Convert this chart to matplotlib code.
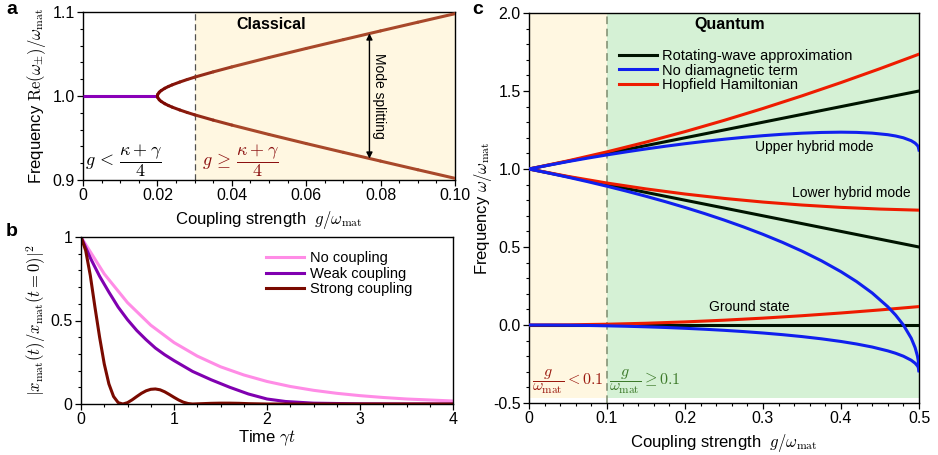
import matplotlib
matplotlib.use('Agg')
import matplotlib.pyplot as plt
from matplotlib.collections import LineCollection
from matplotlib.colors import LinearSegmentedColormap
from matplotlib.ticker import MultipleLocator
from matplotlib.lines import Line2D
import numpy as np

plt.rcParams['font.family'] = ['Liberation Sans', 'DejaVu Sans']
plt.rcParams['mathtext.fontset'] = 'cm'
plt.rcParams['axes.linewidth'] = 1.0

# ---------------- Panel a data ----------------
g_flat = [0.0, 0.02]
freq_flat = [1.0, 1.0]
g_split = [0.02, 0.0201, 0.0205, 0.021, 0.022, 0.023, 0.024, 0.026, 0.028, 0.03,
           0.035, 0.04, 0.05, 0.06, 0.07, 0.08, 0.09, 0.1]
freq_upper = [1.0, 1.0020, 1.0045, 1.0064, 1.0092, 1.0114, 1.0133, 1.0166, 1.0196, 1.0224,
              1.0287, 1.0346, 1.0458, 1.0566, 1.0671, 1.0775, 1.0878, 1.0980]
freq_lower = [1.0, 0.9980, 0.9955, 0.9936, 0.9908, 0.9886, 0.9867, 0.9834, 0.9804, 0.9776,
              0.9713, 0.9654, 0.9542, 0.9434, 0.9329, 0.9225, 0.9122, 0.9020]
xticks_a = [0, 0.02, 0.04, 0.06, 0.08, 0.10]
xticklabels_a = ['0', '0.02', '0.04', '0.06', '0.08', '0.10']
yticks_a = [0.9, 1.0, 1.1]
yticklabels_a = ['0.9', '1.0', '1.1']

# ---------------- Panel b data ----------------
t_none = [0, 0.25, 0.5, 0.75, 1.0, 1.25, 1.5, 1.75, 2.0, 2.25, 2.5, 2.75, 3.0, 3.25, 3.5, 3.75, 4.0]
pop_none = [1.0, 0.779, 0.607, 0.472, 0.368, 0.287, 0.223, 0.174, 0.135, 0.105, 0.082, 0.064,
            0.050, 0.039, 0.030, 0.024, 0.018]
t_weak = [0, 0.1, 0.2, 0.3, 0.4, 0.5, 0.6, 0.7, 0.8, 0.9, 1.0, 1.2, 1.4, 1.6, 1.8, 2.0, 2.2,
          2.5, 3.0, 3.5, 4.0]
pop_weak = [1.0, 0.875, 0.765, 0.67, 0.58, 0.505, 0.44, 0.385, 0.335, 0.295, 0.26, 0.195, 0.145,
            0.10, 0.06, 0.03, 0.015, 0.005, 0.001, 0.0, 0.0]
t_strong = [0, 0.05, 0.1, 0.15, 0.2, 0.25, 0.3, 0.35, 0.4, 0.45, 0.5, 0.55, 0.6, 0.65, 0.7, 0.75,
            0.8, 0.85, 0.9, 0.95, 1.0, 1.05, 1.1, 1.15, 1.2, 1.3, 1.4, 1.5, 1.6, 1.7, 1.8, 1.9,
            2.0, 4.0]
pop_strong = [1.0, 0.92, 0.77, 0.58, 0.40, 0.24, 0.12, 0.045, 0.008, 0.0, 0.008, 0.025, 0.045,
              0.064, 0.079, 0.088, 0.090, 0.085, 0.073, 0.057, 0.040, 0.024, 0.011, 0.003, 0.0,
              0.002, 0.004, 0.005, 0.005, 0.004, 0.002, 0.001, 0.0, 0.0]
labels_b = ['No coupling', 'Weak coupling', 'Strong coupling']

# ---------------- Panel c data ----------------
g_rwa = [0.0, 0.5]
rwa_upper = [1.0, 1.5]
rwa_lower = [1.0, 0.5]
rwa_ground = [0.0, 0.0]

g_hop = [0.0, 0.05, 0.1, 0.15, 0.2, 0.25, 0.3, 0.35, 0.4, 0.45, 0.5]
hop_upper = [1.0, 1.0525, 1.1100, 1.1724, 1.2396, 1.3116, 1.3881, 1.4690, 1.5541, 1.6432, 1.7361]
hop_lower = [1.0, 0.9525, 0.9100, 0.8724, 0.8396, 0.8116, 0.7881, 0.7690, 0.7541, 0.7432, 0.7361]
hop_ground = [0.0, 0.0012, 0.0050, 0.0112, 0.0198, 0.0308, 0.0440, 0.0595, 0.0770, 0.0966, 0.1180]

g_nd = [0.0, 0.025, 0.05, 0.075, 0.1, 0.125, 0.15, 0.175, 0.2, 0.225, 0.25, 0.275, 0.3, 0.325,
        0.35, 0.375, 0.4, 0.42, 0.44, 0.46, 0.47, 0.48, 0.49, 0.495, 0.498, 0.499, 0.5]
nd_upper = [1.0, 1.0244, 1.0476, 1.0696, 1.0904, 1.1101, 1.1286, 1.1460, 1.1621, 1.1771, 1.1907,
            1.2029, 1.2136, 1.2226, 1.2296, 1.2343, 1.2361, 1.2347, 1.2299, 1.2199, 1.2117,
            1.2000, 1.1814, 1.1660, 1.1508, 1.1426, 1.1213]
nd_lower = [1.0, 0.9744, 0.9474, 0.9191, 0.8894, 0.8581, 0.8251, 0.7903, 0.7535, 0.7145, 0.6730,
            0.6287, 0.5811, 0.5297, 0.4735, 0.4114, 0.3416, 0.2782, 0.2052, 0.1171, 0.0638,
            0.0, -0.0843, -0.1447, -0.1987, -0.2262, -0.2929]
nd_ground = [0.0, -0.0003, -0.0013, -0.0028, -0.0051, -0.0080, -0.0116, -0.0159, -0.0211,
             -0.0271, -0.0341, -0.0421, -0.0513, -0.0619, -0.0742, -0.0886, -0.1056, -0.1218,
             -0.1412, -0.1658, -0.1811, -0.2000, -0.2257, -0.2447, -0.2620, -0.2709, -0.2929]
labels_c = ['Rotating-wave approximation', 'No diamagnetic term', 'Hopfield Hamiltonian']
xticks_c = [0, 0.1, 0.2, 0.3, 0.4, 0.5]
xticklabels_c = ['0', '0.1', '0.2', '0.3', '0.4', '0.5']
yticks_c = [-0.5, 0.0, 0.5, 1.0, 1.5, 2.0]
yticklabels_c = ['-0.5', '0.0', '0.5', '1.0', '1.5', '2.0']

# ---------------- Style ----------------
YELLOW = '#fff7e1'
GREEN = '#d5f1d5'
TICK_FS = 11.5
LABEL_FS = 12
W, H = 938, 455

fig = plt.figure(figsize=(W / 100, H / 100), dpi=100)


def px_axes(left, top, right, bottom):
    return fig.add_axes([left / W, 1 - bottom / H, (right - left) / W, (bottom - top) / H])


def style_ticks(ax):
    ax.tick_params(which='major', direction='out', length=4, width=0.9, labelsize=TICK_FS, pad=2)
    ax.tick_params(which='minor', direction='out', length=2.5, width=0.8)


# ---------------- Panel a ----------------
axA = px_axes(83, 12, 455, 180)
axA.axvspan(0.03, 0.1, color=YELLOW, zorder=0, lw=0)
axA.axvline(0.03, color='#505050', ls=(0, (5, 3)), lw=0.9, zorder=1)
axA.plot(g_flat, freq_flat, color='#8a00b8', lw=2.2, zorder=3, solid_capstyle='butt')

xs = np.array(g_split[::-1] + g_split[1:])
ys = np.array(freq_lower[::-1] + freq_upper[1:])
pts = np.column_stack([xs, ys]).reshape(-1, 1, 2)
segs = np.concatenate([pts[:-1], pts[1:]], axis=1)
cmap_a = LinearSegmentedColormap.from_list('br', ['#7a0400', '#a8482a'])
xmid = 0.5 * (xs[:-1] + xs[1:])
frac = np.clip((xmid - 0.02) / 0.022, 0, 1)
lc = LineCollection(segs, colors=cmap_a(frac), linewidths=2.2, zorder=3, capstyle='round',
                    joinstyle='round')
axA.add_collection(lc)

axA.annotate('', xy=(0.077, 1.0745), xytext=(0.077, 0.9255),
             arrowprops=dict(arrowstyle='<|-|>', color='black', lw=1.0,
                             mutation_scale=9, shrinkA=0, shrinkB=0), zorder=4)
axA.text(0.0795, 1.0, 'Mode splitting', rotation=-90, ha='center', va='center', fontsize=10)
axA.text(0.0505, 1.085, 'Classical', ha='center', va='center', fontsize=11.5, fontweight='bold')
axA.text(0.0005, 0.9235, r'$g\,<\,\dfrac{\kappa+\gamma}{4}$', ha='left', va='center',
         fontsize=13, color='black')
axA.text(0.032, 0.9235, r'$g\,\geq\,\dfrac{\kappa+\gamma}{4}$', ha='left', va='center',
         fontsize=13, color='#8b1010')

axA.set_xlim(0, 0.1)
axA.set_ylim(0.9, 1.1)
axA.set_xticks(xticks_a)
axA.set_xticklabels(xticklabels_a)
axA.set_yticks(yticks_a)
axA.set_yticklabels(yticklabels_a)
axA.xaxis.set_minor_locator(MultipleLocator(0.005))
axA.yaxis.set_minor_locator(MultipleLocator(0.02))
style_ticks(axA)
axA.set_xlabel(r'Coupling strength  $g/\omega_{\mathrm{mat}}$', fontsize=LABEL_FS, labelpad=4)
axA.set_ylabel(r'Frequency $\mathrm{Re}(\omega_{\pm})/\omega_{\mathrm{mat}}$', fontsize=LABEL_FS,
               labelpad=3)

# ---------------- Panel b ----------------
axB = px_axes(81, 237, 453, 404)
axB.plot(t_none, pop_none, color='#ff8ce6', lw=2.2, label=labels_b[0])
axB.plot(t_weak, pop_weak, color='#8000b0', lw=2.2, label=labels_b[1])
axB.plot(t_strong, pop_strong, color='#7a0a00', lw=2.2, label=labels_b[2])
axB.set_xlim(0, 4)
axB.set_ylim(0, 1)
axB.set_xticks([0, 1, 2, 3, 4])
axB.set_xticklabels(['0', '1', '2', '3', '4'])
axB.set_yticks([0, 0.5, 1])
axB.set_yticklabels(['0', '0.5', '1'])
axB.xaxis.set_minor_locator(MultipleLocator(0.25))
axB.yaxis.set_minor_locator(MultipleLocator(0.1))
style_ticks(axB)
axB.set_xlabel(r'Time $\gamma t$', fontsize=LABEL_FS, labelpad=1)
axB.set_ylabel(r'$|x_{\mathrm{mat}}(t)/x_{\mathrm{mat}}(t=0)|^2$', fontsize=LABEL_FS, labelpad=2)
axB.legend(loc='upper left', bbox_to_anchor=(0.481, 0.95), frameon=False, fontsize=10.5,
           handlelength=2.6, handletextpad=0.4, labelspacing=0.1, borderaxespad=0)

# ---------------- Panel c ----------------
axC = px_axes(529, 13, 919, 403)
axC.axvspan(0.0, 0.1, ymin=0.012, ymax=1, color=YELLOW, zorder=0, lw=0)
axC.axvspan(0.1, 0.5, ymin=0.012, ymax=1, color=GREEN, zorder=0, lw=0)
axC.axvline(0.1, color='#7d8b6e', ls=(0, (5, 3)), lw=1.1, zorder=1)

lw_c = 2.2
for yv in (rwa_upper, rwa_lower, rwa_ground):
    axC.plot(g_rwa, yv, color='#001400', lw=lw_c, zorder=3)
for yv in (hop_upper, hop_lower, hop_ground):
    axC.plot(g_hop, yv, color='#ee1c00', lw=lw_c, zorder=4)
for yv in (nd_upper, nd_lower, nd_ground):
    axC.plot(g_nd, yv, color='#1020ee', lw=lw_c, zorder=5)

handles = [Line2D([], [], color='#001400', lw=lw_c), Line2D([], [], color='#1020ee', lw=lw_c),
           Line2D([], [], color='#ee1c00', lw=lw_c)]
axC.legend(handles, labels_c, loc='upper left', bbox_to_anchor=(0.215, 0.923), frameon=False,
           fontsize=10.5, handlelength=2.6, handletextpad=0.4, labelspacing=0.05, borderaxespad=0)

axC.text(0.257, 1.925, 'Quantum', ha='center', va='center', fontsize=11.5, fontweight='bold')
axC.text(0.366, 1.143, 'Upper hybrid mode', ha='center', va='center', fontsize=10)
axC.text(0.413, 0.844, 'Lower hybrid mode', ha='center', va='center', fontsize=10)
axC.text(0.283, 0.113, 'Ground state', ha='center', va='center', fontsize=10)
axC.text(0.004, -0.365, r'$\dfrac{g}{\omega_{\mathrm{mat}}} < 0.1$', ha='left', va='center',
         fontsize=11.5, color='#9b1a10')
axC.text(0.1025, -0.365, r'$\dfrac{g}{\omega_{\mathrm{mat}}} \geq 0.1$', ha='left', va='center',
         fontsize=11.5, color='#3d7a2a')

axC.set_xlim(0, 0.5)
axC.set_ylim(-0.5, 2.0)
axC.set_xticks(xticks_c)
axC.set_xticklabels(xticklabels_c)
axC.set_yticks(yticks_c)
axC.set_yticklabels(yticklabels_c)
axC.xaxis.set_minor_locator(MultipleLocator(0.02))
axC.yaxis.set_minor_locator(MultipleLocator(0.1))
style_ticks(axC)
axC.set_xlabel(r'Coupling strength  $g/\omega_{\mathrm{mat}}$', fontsize=LABEL_FS, labelpad=4)
axC.set_ylabel(r'Frequency $\omega/\omega_{\mathrm{mat}}$', fontsize=LABEL_FS, labelpad=-1)

# ---------------- Panel letters ----------------
fig.text(6 / W, 1 - 9 / H, 'a', fontsize=14, fontweight='bold', va='center', ha='left')
fig.text(6 / W, 1 - 232 / H, 'b', fontsize=14, fontweight='bold', va='center', ha='left')
fig.text(472 / W, 1 - 9 / H, 'c', fontsize=14, fontweight='bold', va='center', ha='left')

fig.savefig('out.png', dpi=100)
